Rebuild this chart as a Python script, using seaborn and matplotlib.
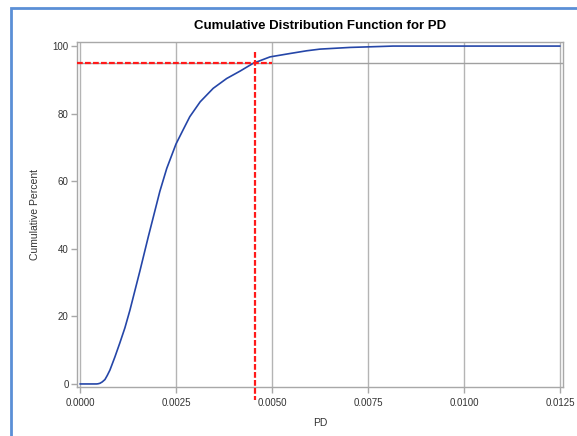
import matplotlib
matplotlib.use("Agg")
import matplotlib.pyplot as plt
import seaborn as sns
import pandas as pd
from matplotlib.patches import Rectangle

# Data
pd_values = [0.0, 0.00043, 0.00047, 0.00052, 0.00058, 0.00065, 0.00071, 0.00078,
             0.00091, 0.00104, 0.00117, 0.00130, 0.00143, 0.00156, 0.00167,
             0.00178, 0.00191, 0.00208, 0.00226, 0.00250, 0.00269, 0.00286,
             0.00313, 0.00347, 0.00382, 0.00417, 0.00451, 0.00495, 0.00547,
             0.00590, 0.00625, 0.00703, 0.00760, 0.00815, 0.01250]
cum_percent = [0, 0, 0.05, 0.2, 0.6, 1.3, 2.5, 4.1,
               8.0, 12.2, 16.6, 21.8, 27.6, 33.4, 38.5,
               43.6, 49.4, 57.0, 63.8, 71.0, 75.3, 79.1,
               83.5, 87.5, 90.4, 92.6, 94.9, 96.8, 97.8,
               98.6, 99.1, 99.6, 99.8, 100.0, 100.0]
x_ticks = [0.0, 0.0025, 0.0050, 0.0075, 0.0100, 0.0125]
x_tick_labels = ["0.0000", "0.0025", "0.0050", "0.0075", "0.0100", "0.0125"]
y_ticks = [0, 20, 40, 60, 80, 100]
ref_percent = 95
ref_pd = 0.00456

sns.set_theme(style="white")
plt.rcParams["font.family"] = ["Liberation Sans", "DejaVu Sans"]

fig = plt.figure(figsize=(5.77, 4.36), dpi=100)
ax = fig.add_axes([0.1334, 0.1124, 0.8423, 0.792])

df = pd.DataFrame({"PD": pd_values, "Cumulative Percent": cum_percent})
sns.lineplot(data=df, x="PD", y="Cumulative Percent", ax=ax, color="#2546a8",
             linewidth=1.2, estimator=None, sort=False, zorder=4)

ax.set_xlim(-0.000078, 0.012578)
ax.set_ylim(-0.9, 101.3)
ax.set_xticks(x_ticks)
ax.set_xticklabels(x_tick_labels)
ax.set_yticks(y_ticks)

for xt in x_ticks:
    ax.axvline(xt, color="#b4b4b4", linewidth=1.0, zorder=1)
ax.axhline(ref_percent, color="#a0a0a0", linewidth=1.0, zorder=2)

ax.plot([ax.get_xlim()[0], 0.0050], [ref_percent, ref_percent], color="#ff1a1a",
        linewidth=1.6, linestyle=(0, (2.6, 1.0)), zorder=5)
ax.plot([ref_pd, ref_pd], [98.3, -4.7], color="#ff1a1a", linewidth=1.6,
        linestyle=(0, (2.6, 1.0)), zorder=5, clip_on=False)

for s in ax.spines.values():
    s.set_color("#a8a8a8")
    s.set_linewidth(1.0)
ax.tick_params(axis="both", which="major", length=4, width=1, color="#a8a8a8",
               labelsize=7, labelcolor="#333333", direction="out", pad=2,
               bottom=True, left=True)
ax.tick_params(axis="x", pad=4)

ax.set_title("Cumulative Distribution Function for PD", fontsize=9.5,
             fontweight="bold", color="black", pad=9)
ax.set_xlabel("PD", fontsize=7.5, color="#333333", labelpad=7)
ax.set_ylabel("Cumulative Percent", fontsize=7.5, color="#333333", labelpad=9)

# blue frame around the graph
fig.patches.append(Rectangle((11 / 577, -0.1), 1.2, (436 - 8) / 436 + 0.1,
                             transform=fig.transFigure, fill=False,
                             edgecolor="#5b8fd6", linewidth=2.0, zorder=10))

fig.savefig("out.png", dpi=100)
